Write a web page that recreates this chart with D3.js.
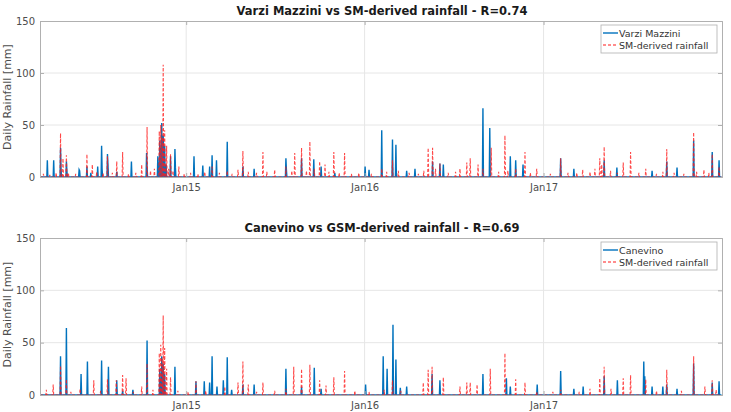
<!DOCTYPE html>
<html>
<head>
<meta charset="utf-8">
<script src="https://cdn.jsdelivr.net/npm/d3@7"></script>
<style>
  body { margin: 0; background: #fff; }
  text { font-family: "DejaVu Sans", sans-serif; }
</style>
</head>
<body>
<div id="chart"></div>
<script>
// daily rainfall [mm], only wet days listed (other days are 0)
var varziObs = [["2014-03-23",16],["2014-04-05",16],["2014-04-19",28],["2014-04-20",8],["2014-05-01",15],["2014-05-02",6],["2014-05-27",7],["2014-05-28",6],["2014-06-12",10],["2014-06-20",4],["2014-07-04",10],["2014-07-12",30],["2014-07-13",8],["2014-07-24",22],["2014-07-25",12],["2014-08-12",5],["2014-09-11",15],["2014-10-12",23],["2014-10-13",10],["2014-11-04",20],["2014-11-06",14],["2014-11-08",35],["2014-11-10",28],["2014-11-12",52],["2014-11-15",40],["2014-11-16",22],["2014-11-18",30],["2014-11-21",12],["2014-11-30",20],["2014-12-09",27],["2014-12-10",9],["2015-01-17",20],["2015-02-04",11],["2015-02-18",10],["2015-02-23",21],["2015-03-04",16],["2015-03-26",34],["2015-04-27",10],["2015-05-20",8],["2015-07-24",18],["2015-07-25",7],["2015-08-25",18],["2015-09-19",17],["2015-10-04",10],["2015-11-01",4],["2016-01-02",10],["2016-01-10",7],["2016-02-05",45],["2016-02-27",36],["2016-03-05",31],["2016-03-27",6],["2016-04-13",8],["2016-05-19",15],["2016-06-03",13],["2016-06-10",12],["2016-08-30",66],["2016-09-13",47],["2016-10-25",20],["2016-11-05",16],["2016-11-20",12],["2017-02-05",18],["2017-03-04",8],["2017-05-05",16],["2017-05-31",9],["2017-08-11",6],["2017-09-10",15],["2017-10-01",9],["2017-11-04",35],["2017-12-12",24],["2017-12-26",16]];

var smTop = [["2014-03-15",3],["2014-03-28",2],["2014-04-10",4],["2014-04-19",42],["2014-04-24",18],["2014-05-01",21],["2014-05-05",4],["2014-05-20",3],["2014-06-12",22],["2014-06-23",12],["2014-07-02",5],["2014-07-15",4],["2014-07-24",20],["2014-08-03",4],["2014-08-12",15],["2014-08-24",24],["2014-09-05",3],["2014-09-20",4],["2014-10-02",12],["2014-10-13",48],["2014-10-20",6],["2014-10-28",8],["2014-11-07",44],["2014-11-10",50],["2014-11-13",38],["2014-11-15",108],["2014-11-18",45],["2014-11-22",30],["2014-11-26",8],["2014-11-30",22],["2014-12-05",6],["2014-12-17",10],["2014-12-28",3],["2015-01-10",4],["2015-01-25",3],["2015-02-08",5],["2015-02-23",10],["2015-03-10",4],["2015-03-26",6],["2015-04-05",3],["2015-04-17",7],["2015-04-27",25],["2015-05-08",5],["2015-05-25",4],["2015-06-07",24],["2015-06-15",5],["2015-07-01",7],["2015-07-24",10],["2015-08-05",6],["2015-08-11",23],["2015-08-25",28],["2015-09-04",6],["2015-09-11",34],["2015-09-20",8],["2015-10-01",15],["2015-10-12",12],["2015-10-20",5],["2015-10-30",24],["2015-11-10",4],["2015-11-21",23],["2015-12-05",3],["2015-12-20",4],["2016-01-15",3],["2016-02-05",8],["2016-02-15",5],["2016-02-27",16],["2016-03-10",6],["2016-04-01",4],["2016-04-20",3],["2016-05-01",6],["2016-05-10",28],["2016-05-19",28],["2016-05-25",8],["2016-06-03",13],["2016-06-20",4],["2016-07-05",5],["2016-07-14",8],["2016-07-28",14],["2016-08-04",18],["2016-08-20",12],["2016-08-30",8],["2016-09-16",28],["2016-10-01",5],["2016-10-14",40],["2016-10-20",6],["2016-11-05",8],["2016-11-24",24],["2016-12-05",4],["2016-12-18",8],["2017-01-15",3],["2017-02-05",18],["2017-02-20",4],["2017-03-10",4],["2017-03-22",7],["2017-04-06",5],["2017-04-16",8],["2017-04-26",18],["2017-04-30",12],["2017-05-05",29],["2017-05-18",6],["2017-06-01",4],["2017-06-13",14],["2017-06-28",24],["2017-07-15",4],["2017-07-29",8],["2017-08-20",3],["2017-09-02",5],["2017-09-10",27],["2017-09-25",4],["2017-10-15",3],["2017-11-04",43],["2017-11-10",5],["2017-11-25",7],["2017-12-05",4],["2017-12-12",22],["2017-12-26",10]];

var canevinoObs = [["2014-04-19",37],["2014-05-01",64],["2014-05-31",20],["2014-06-13",32],["2014-07-12",33],["2014-07-26",27],["2014-08-12",14],["2014-08-24",4],["2014-09-14",5],["2014-10-13",52],["2014-11-08",25],["2014-11-12",37],["2014-11-15",30],["2014-11-18",20],["2014-12-09",27],["2015-01-21",13],["2015-02-07",13],["2015-02-18",12],["2015-02-23",37],["2015-03-05",8],["2015-03-18",14],["2015-03-26",36],["2015-04-04",5],["2015-04-27",10],["2015-05-20",10],["2015-07-24",25],["2015-08-25",8],["2015-09-20",26],["2015-10-04",6],["2016-01-03",10],["2016-02-08",37],["2016-02-16",25],["2016-02-28",67],["2016-03-05",34],["2016-03-14",7],["2016-03-27",8],["2016-05-18",20],["2016-06-03",14],["2016-08-30",20],["2016-10-17",16],["2016-10-25",8],["2016-12-19",10],["2017-02-05",23],["2017-03-04",6],["2017-03-23",8],["2017-05-05",18],["2017-06-01",14],["2017-07-25",32],["2017-07-27",18],["2017-08-11",8],["2017-09-02",8],["2017-09-10",10],["2017-10-01",6],["2017-11-04",30],["2017-12-12",12],["2017-12-26",13]];

var smBottom = [["2014-03-21",5],["2014-04-04",10],["2014-04-19",28],["2014-05-01",15],["2014-05-10",3],["2014-05-29",6],["2014-06-26",14],["2014-07-10",4],["2014-07-24",15],["2014-08-11",14],["2014-08-24",19],["2014-08-31",16],["2014-09-15",3],["2014-10-02",8],["2014-10-13",30],["2014-10-25",5],["2014-11-07",40],["2014-11-10",48],["2014-11-13",35],["2014-11-15",76],["2014-11-18",45],["2014-11-22",25],["2014-11-30",17],["2014-12-15",4],["2015-01-05",3],["2015-01-21",13],["2015-02-10",4],["2015-03-21",8],["2015-04-17",12],["2015-04-27",32],["2015-05-08",10],["2015-05-25",3],["2015-06-07",12],["2015-07-01",4],["2015-07-24",6],["2015-08-09",27],["2015-08-25",25],["2015-09-11",29],["2015-10-01",14],["2015-10-14",9],["2015-10-30",17],["2015-11-21",23],["2015-12-12",4],["2016-01-10",3],["2016-02-10",5],["2016-02-27",14],["2016-03-15",4],["2016-04-30",12],["2016-05-10",24],["2016-05-18",27],["2016-06-10",17],["2016-07-14",8],["2016-07-28",12],["2016-08-04",12],["2016-08-18",10],["2016-09-14",25],["2016-10-14",40],["2016-11-05",15],["2016-11-24",12],["2016-12-18",3],["2017-01-20",3],["2017-02-05",5],["2017-03-15",3],["2017-04-06",6],["2017-04-26",16],["2017-05-05",27],["2017-05-19",6],["2017-06-13",16],["2017-06-28",19],["2017-07-29",15],["2017-08-20",4],["2017-09-10",24],["2017-10-10",4],["2017-11-04",37],["2017-11-27",8],["2017-12-12",14],["2017-12-20",5]];

var startDate = "2014-03-08";
var endDate = "2018-01-01";
var yTicks = [0, 50, 100, 150];
var xTickDates = ["2015-01-01", "2016-01-01", "2017-01-01"];

var svgWidth = 731;
var svgHeight = 412;
var parseDate = d3.timeParse("%Y-%m-%d");

var svg = d3.select("#chart")
  .append("svg")
  .attr("width", svgWidth)
  .attr("height", svgHeight);

var x = d3.scaleTime()
  .domain([parseDate(startDate), parseDate(endDate)])
  .range([40, 722]);

// turn a wet-day list into a full daily series
function dailySeries(list) {
  var lookup = {};
  list.forEach(function(d) { lookup[d[0]] = d[1]; });
  var fmt = d3.timeFormat("%Y-%m-%d");
  return d3.timeDay.range(parseDate(startDate), parseDate(endDate)).map(function(day) {
    var k = fmt(day);
    return { date: day, value: lookup[k] || 0 };
  });
}

function drawPanel(top, bottom, title, obs, sm, obsName) {
  var y = d3.scaleLinear().domain([0, 150]).range([bottom, top]);
  var g = svg.append("g");

  // grid
  g.selectAll(".hgrid").data(yTicks.slice(1, 3)).enter().append("line")
    .attr("x1", 40).attr("x2", 722)
    .attr("y1", d => y(d)).attr("y2", d => y(d))
    .attr("stroke", "#e6e6e6").attr("stroke-width", 1);
  g.selectAll(".vgrid").data(xTickDates).enter().append("line")
    .attr("x1", d => x(parseDate(d))).attr("x2", d => x(parseDate(d)))
    .attr("y1", top).attr("y2", bottom)
    .attr("stroke", "#e6e6e6").attr("stroke-width", 1);

  var line = d3.line()
    .x(d => x(d.date))
    .y(d => y(d.value));

  g.append("path")
    .datum(dailySeries(obs))
    .attr("d", line)
    .attr("fill", "none")
    .attr("stroke", "#0072bd")
    .attr("stroke-width", 1.4);

  g.append("path")
    .datum(dailySeries(sm))
    .attr("d", line)
    .attr("fill", "none")
    .attr("stroke", "#ff1a1a")
    .attr("stroke-width", 1.1)
    .attr("stroke-dasharray", "3,2")
    .attr("opacity", 0.8);

  // axes
  var leftAxis = d3.axisLeft(y).tickValues(yTicks).tickSize(-4).tickPadding(5);
  var rightAxis = d3.axisRight(y).tickValues(yTicks).tickSize(-4).tickFormat("");
  var bottomAxis = d3.axisBottom(x).tickValues(xTickDates.map(parseDate))
    .tickSize(-4).tickPadding(7).tickFormat(d3.timeFormat("%b%y"));
  var topAxis = d3.axisTop(x).tickValues(xTickDates.map(parseDate)).tickSize(-4).tickFormat("");

  var axes = [
    g.append("g").attr("transform", "translate(40,0)").call(leftAxis),
    g.append("g").attr("transform", "translate(722,0)").call(rightAxis),
    g.append("g").attr("transform", `translate(0,${bottom})`).call(bottomAxis),
    g.append("g").attr("transform", `translate(0,${top})`).call(topAxis)
  ];
  axes.forEach(function(a) {
    a.select(".domain").attr("stroke", "#b0b0b0");
    a.selectAll(".tick line").attr("stroke", "#b0b0b0");
    a.selectAll("text").attr("fill", "#4d4d4d").style("font-size", "10px")
      .style("font-family", "DejaVu Sans");
  });

  // title
  g.append("text")
    .attr("x", 382).attr("y", top - 6)
    .attr("text-anchor", "middle")
    .style("font-size", "11.5px").style("font-weight", "bold")
    .attr("fill", "#1a1a1a")
    .text(title);

  // y label
  g.append("text")
    .attr("transform", `translate(11,${(top + bottom) / 2 - 2}) rotate(-90)`)
    .attr("text-anchor", "middle")
    .style("font-size", "11px")
    .attr("fill", "#4d4d4d")
    .text("Daily Rainfall [mm]");

  // legend
  var lg = g.append("g").attr("transform", `translate(601,${top + 4})`);
  lg.append("rect")
    .attr("width", 116).attr("height", 28)
    .attr("fill", "#fff").attr("stroke", "#b0b0b0").attr("stroke-width", 0.8);
  lg.append("line").attr("x1", 2).attr("x2", 17).attr("y1", 8).attr("y2", 8)
    .attr("stroke", "#0072bd").attr("stroke-width", 1.4);
  lg.append("line").attr("x1", 2).attr("x2", 17).attr("y1", 20).attr("y2", 20)
    .attr("stroke", "#ff1a1a").attr("stroke-width", 1.2).attr("stroke-dasharray", "3,2");
  lg.append("text").attr("x", 18).attr("y", 11.5)
    .style("font-size", "9.5px").attr("fill", "#333").text(obsName);
  lg.append("text").attr("x", 18).attr("y", 23.5)
    .style("font-size", "9.5px").attr("fill", "#333").text("SM-derived rainfall");
}

drawPanel(21, 177, "Varzi Mazzini vs SM-derived rainfall - R=0.74", varziObs, smTop, "Varzi Mazzini");
drawPanel(238, 395, "Canevino vs GSM-derived rainfall - R=0.69", canevinoObs, smBottom, "Canevino");
</script>
</body>
</html>
